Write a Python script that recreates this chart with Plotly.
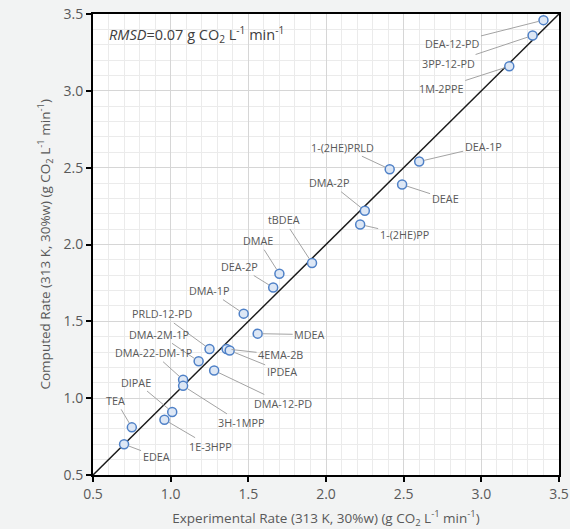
import plotly.graph_objects as go

# ---- data ----
amines = ["DEA-12-PD", "3PP-12-PD", "1M-2PPE", "1-(2HE)PRLD", "DEA-1P", "DEAE",
          "DMA-2P", "1-(2HE)PP", "tBDEA", "DMAE", "DEA-2P", "DMA-1P",
          "PRLD-12-PD", "MDEA", "4EMA-2B", "IPDEA", "DMA-2M-1P", "DMA-12-PD",
          "DMA-22-DM-1P", "3H-1MPP", "DIPAE", "1E-3HPP", "TEA", "EDEA"]
experimental = [3.40, 3.33, 3.18, 2.41, 2.60, 2.49,
                2.25, 2.22, 1.91, 1.70, 1.66, 1.47,
                1.25, 1.56, 1.36, 1.38, 1.18, 1.28,
                1.08, 1.08, 1.01, 0.96, 0.75, 0.70]
computed = [3.46, 3.36, 3.16, 2.49, 2.54, 2.39,
            2.22, 2.13, 1.88, 1.81, 1.72, 1.55,
            1.32, 1.42, 1.32, 1.31, 1.24, 1.18,
            1.12, 1.08, 0.91, 0.86, 0.81, 0.70]
parity = [0.5, 3.5]
tick_vals = [0.5, 1.0, 1.5, 2.0, 2.5, 3.0, 3.5]

# ---- label offsets (pixels, layout only) ----
label_offsets = {
    "DEA-12-PD": (-91, 23), "3PP-12-PD": (-84, 28), "1M-2PPE": (-68, 22),
    "1-(2HE)PRLD": (-47, -22), "DEA-1P": (64, -15), "DEAE": (43, 14),
    "DMA-2P": (-35, -28), "1-(2HE)PP": (44, 10), "tBDEA": (-28, -43),
    "DMAE": (-21, -33), "DEA-2P": (-34, -21), "DMA-1P": (-34, -23),
    "PRLD-12-PD": (-48, -35), "MDEA": (52, 1), "4EMA-2B": (54, 6),
    "IPDEA": (52, 21), "DMA-2M-1P": (-40, -27), "DMA-12-PD": (69, 33),
    "DMA-22-DM-1P": (-30, -27), "3H-1MPP": (58, 37), "DIPAE": (-36, -30),
    "1E-3HPP": (46, 27), "TEA": (-16, -27), "EDEA": (32, 12),
}

FONT = "Open Sans"
GRAY = "#595959"

fig = go.Figure()
fig.add_trace(go.Scatter(x=parity, y=parity, mode="lines",
                         line=dict(color="#1a1a1a", width=1.5),
                         hoverinfo="skip", showlegend=False))
fig.add_trace(go.Scatter(x=experimental, y=computed, mode="markers", text=amines,
                         marker=dict(size=9, color="#dde7f5",
                                     line=dict(color="#4f81c7", width=1.5)),
                         showlegend=False))

annotations = []
for name, xe, yc in zip(amines, experimental, computed):
    ax, ay = label_offsets[name]
    annotations.append(dict(
        x=xe, y=yc, xref="x", yref="y", text=name, showarrow=True,
        ax=ax, ay=ay, arrowhead=0, arrowwidth=1, arrowcolor="#a3a3a3",
        standoff=5, font=dict(family=FONT, size=10.8, color=GRAY)))

annotations.append(dict(
    x=0.03, y=0.955, xref="paper", yref="paper", xanchor="left", yanchor="middle",
    showarrow=False,
    text="<i>RMSD</i>=0.07 g CO<sub>2</sub> L<sup>-1</sup> min<sup>-1</sup>",
    font=dict(family=FONT, size=14.5, color="#404040")))

# y-axis title placed as rotated text
annotations.append(dict(
    x=-0.103, y=0.5, xref="paper", yref="paper",
    xanchor="center", yanchor="middle", showarrow=False, textangle=-90,
    text="Computed Rate (313 K, 30%w) (g CO<sub>2</sub> L<sup>-1</sup> min<sup>-1</sup>)",
    font=dict(family=FONT, size=13.5, color=GRAY)))

axis_common = dict(
    range=[0.5, 3.5], tickvals=tick_vals, ticktext=[f"{v:.1f}" for v in tick_vals],
    showline=True, linecolor="black", linewidth=2, mirror=True,
    ticks="outside", ticklen=5, tickcolor="black", tickwidth=1.5,
    showgrid=True, gridcolor="#d6d6d6", gridwidth=1, zeroline=False,
    minor=dict(dtick=0.1, showgrid=True, gridcolor="#ebebeb", gridwidth=1),
    tickfont=dict(family=FONT, size=14, color=GRAY),
    automargin=False,
)

fig.update_layout(
    width=570, height=529,
    margin=dict(l=93, r=11, t=14, b=54),
    paper_bgcolor="#f2f3f3", plot_bgcolor="white",
    xaxis=dict(axis_common,
               title=dict(text="Experimental Rate (313 K, 30%w) (g CO<sub>2</sub> L<sup>-1</sup> min<sup>-1</sup>)",
                          font=dict(family=FONT, size=13.5, color=GRAY))),
    yaxis=dict(axis_common),
    annotations=annotations,
)

fig.write_html("out.html", config={"displayModeBar": False},
               post_script="document.body.style.margin='0';document.body.style.overflow='hidden';")
